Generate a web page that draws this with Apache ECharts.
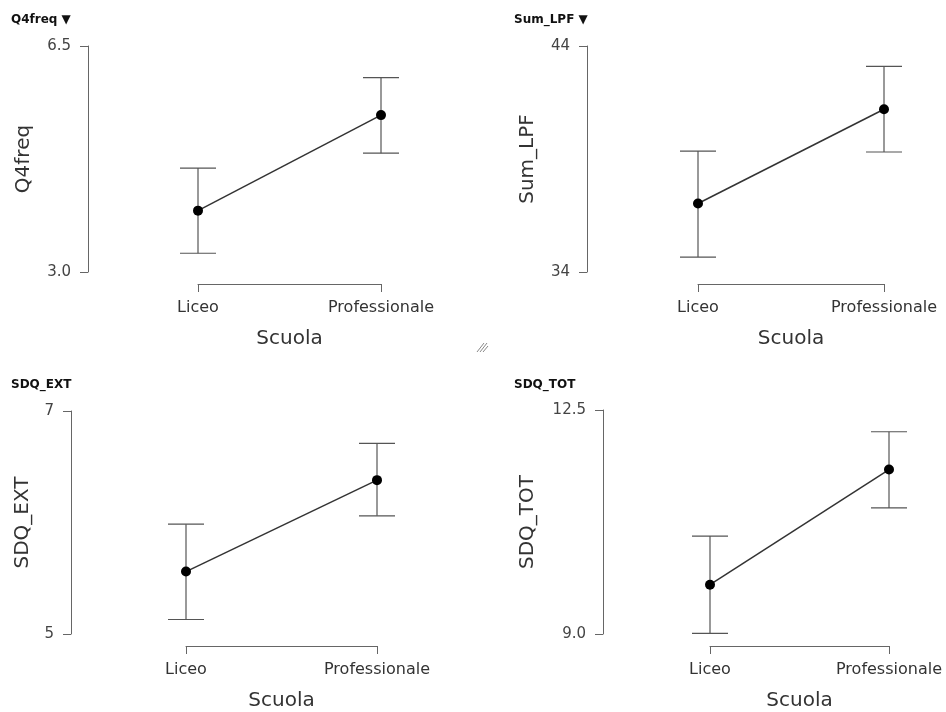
<!DOCTYPE html>
<html>
<head>
<meta charset="utf-8">
<script src="https://cdn.jsdelivr.net/npm/echarts@6/dist/echarts.min.js"></script>
<style>
html,body{margin:0;padding:0;background:#fff;}
#chart{width:946px;height:712px;}
</style>
</head>
<body>
<div id="chart"></div>
<script>
// ---- Data ----
const categories = ['Liceo', 'Professionale'];
const xAxisName = 'Scuola';

const q4Title = 'Q4freq ▼';
const q4Name = 'Q4freq';
const q4Mean = [3.95, 5.43];
const q4Lower = [3.29, 4.84];
const q4Upper = [4.61, 6.01];
const q4Ticks = ['3.0', '6.5'];

const lpfTitle = 'Sum_LPF ▼';
const lpfName = 'Sum_LPF';
const lpfMean = [37.03, 41.2];
const lpfLower = [34.66, 39.31];
const lpfUpper = [39.35, 43.1];
const lpfTicks = ['34', '44'];

const extTitle = 'SDQ_EXT';
const extName = 'SDQ_EXT';
const extMean = [5.56, 6.38];
const extLower = [5.13, 6.06];
const extUpper = [5.985, 6.71];
const extTicks = ['5', '7'];

const totTitle = 'SDQ_TOT';
const totName = 'SDQ_TOT';
const totMean = [9.77, 11.57];
const totLower = [9.01, 10.97];
const totUpper = [10.53, 12.16];
const totTicks = ['9.0', '12.5'];

// ---- Layout ----
const FONT = 'DejaVu Sans';
const panels = [
  {title: q4Title, name: q4Name, mean: q4Mean, lo: q4Lower, hi: q4Upper, ticks: q4Ticks,
   grid: {left: 198, top: 46, width: 183, height: 226}, yOffset: 110, nameGap: 54, titlePos: {left: 11, top: 14}},
  {title: lpfTitle, name: lpfName, mean: lpfMean, lo: lpfLower, hi: lpfUpper, ticks: lpfTicks,
   grid: {left: 698, top: 46, width: 186, height: 226}, yOffset: 111, nameGap: 49, titlePos: {left: 514, top: 14}},
  {title: extTitle, name: extName, mean: extMean, lo: extLower, hi: extUpper, ticks: extTicks,
   grid: {left: 186, top: 411, width: 191, height: 226}, yOffset: 115, nameGap: 38, titlePos: {left: 11, top: 379}},
  {title: totTitle, name: totName, mean: totMean, lo: totLower, hi: totUpper, ticks: totTicks,
   grid: {left: 710, top: 410, width: 179, height: 227}, yOffset: 107, nameGap: 65, titlePos: {left: 514, top: 379}}
];

const option = {
  backgroundColor: '#ffffff',
  animation: false,
  title: [], grid: [], xAxis: [], yAxis: [], series: [],
  graphic: [
    {type: 'line', shape: {x1: 477, y1: 352, x2: 484, y2: 343}, style: {stroke: '#888', lineWidth: 1}},
    {type: 'line', shape: {x1: 480, y1: 352, x2: 487, y2: 343}, style: {stroke: '#888', lineWidth: 1}},
    {type: 'line', shape: {x1: 483, y1: 352, x2: 488, y2: 346}, style: {stroke: '#888', lineWidth: 1}}
  ]
};

panels.forEach((p, i) => {
  const tickVals = p.ticks.map(parseFloat);
  option.title.push({
    text: p.title, left: p.titlePos.left, top: p.titlePos.top, padding: 0,
    textStyle: {fontFamily: FONT, fontSize: 12, fontWeight: 'bold', color: '#111'}
  });
  option.grid.push(Object.assign({containLabel: false}, p.grid));
  option.xAxis.push({
    type: 'category', gridIndex: i, data: categories, boundaryGap: false,
    offset: 12,
    axisLine: {show: true, lineStyle: {color: '#666', width: 1}},
    axisTick: {show: true, length: 8, inside: false, lineStyle: {color: '#666'}},
    axisLabel: {fontFamily: FONT, fontSize: 16, color: '#333', margin: 16},
    splitLine: {show: false},
    name: xAxisName, nameLocation: 'middle', nameGap: 45,
    nameTextStyle: {fontFamily: FONT, fontSize: 20, color: '#333'}
  });
  option.yAxis.push({
    type: 'value', gridIndex: i, min: tickVals[0], max: tickVals[1],
    offset: p.yOffset,
    axisLine: {show: true, lineStyle: {color: '#666', width: 1}},
    axisTick: {show: true, length: 8, inside: false, customValues: tickVals, lineStyle: {color: '#666'}},
    axisLabel: {fontFamily: FONT, fontSize: 15, color: '#444', margin: 17, customValues: tickVals,
      formatter: v => { const k = tickVals.indexOf(v); return k >= 0 ? p.ticks[k] : ''; }},
    splitLine: {show: false},
    name: p.name, nameLocation: 'middle', nameGap: p.nameGap,
    nameTextStyle: {fontFamily: FONT, fontSize: 20, color: '#333'}
  });
  option.series.push({
    type: 'custom', xAxisIndex: i, yAxisIndex: i, clip: false, z: 2,
    data: categories.map((c, k) => [k, p.lo[k], p.hi[k]]),
    renderItem: (params, api) => {
      const x = api.value(0);
      const a = api.coord([x, api.value(1)]);
      const b = api.coord([x, api.value(2)]);
      const hw = 18;
      const st = {stroke: '#555', lineWidth: 1.2, fill: null};
      return {type: 'group', children: [
        {type: 'line', shape: {x1: a[0], y1: a[1], x2: b[0], y2: b[1]}, style: st},
        {type: 'line', shape: {x1: a[0] - hw, y1: a[1], x2: a[0] + hw, y2: a[1]}, style: st},
        {type: 'line', shape: {x1: b[0] - hw, y1: b[1], x2: b[0] + hw, y2: b[1]}, style: st}
      ]};
    }
  });
  option.series.push({
    type: 'line', xAxisIndex: i, yAxisIndex: i, data: p.mean, z: 3,
    symbol: 'circle', symbolSize: 10, showSymbol: true,
    itemStyle: {color: '#000'},
    lineStyle: {color: '#333', width: 1.5}
  });
});

const chart = echarts.init(document.getElementById('chart'), null, {renderer: 'canvas'});
chart.setOption(option);
</script>
</body>
</html>
